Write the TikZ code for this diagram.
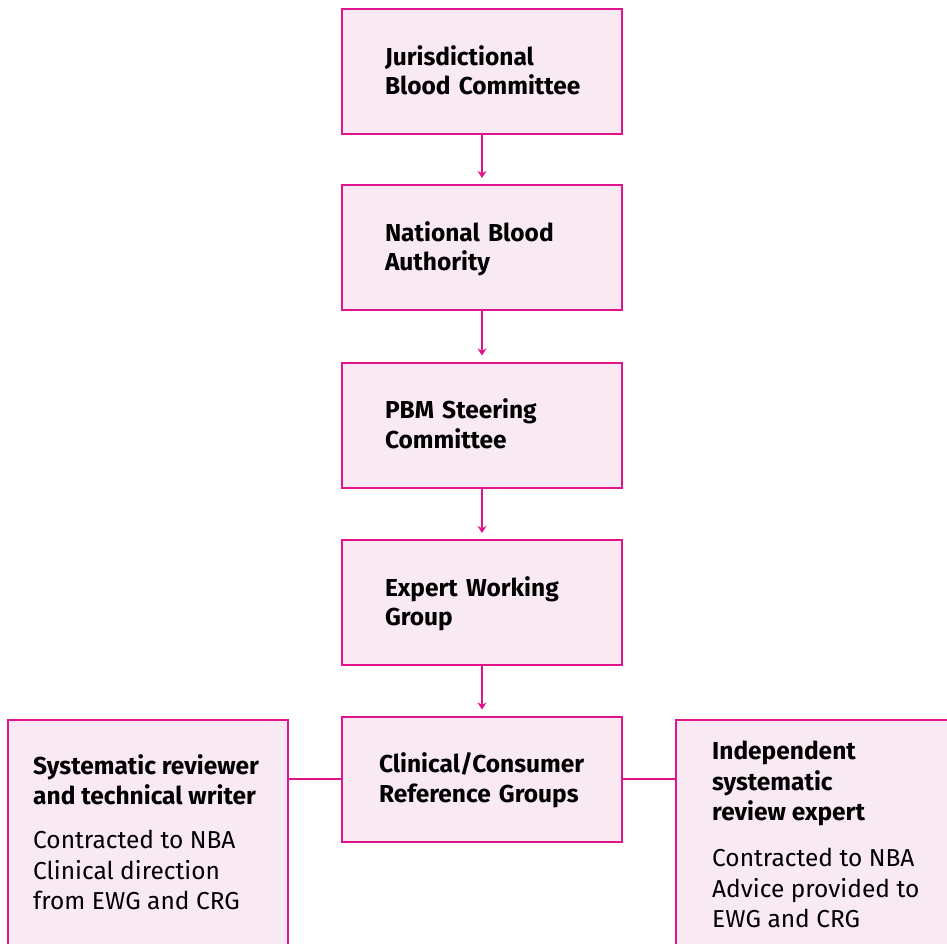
\documentclass[tikz,border=0pt]{standalone}
\usepackage{fontspec}
\setmainfont{Fira Sans}
\usetikzlibrary{arrows.meta}
\definecolor{mag}{HTML}{E0148C}
\definecolor{pinkfill}{HTML}{F8E9F3}
\hyphenpenalty=10000
\exhyphenpenalty=10000
\begin{document}
\begin{tikzpicture}[x=1pt,y=-1pt,
  every node/.style={font=\fontsize{24.5}{30.5}\selectfont},
  box/.style={draw=mag, fill=pinkfill, line width=2pt, inner sep=0pt,
    minimum width=280pt, minimum height=125pt, text width=194pt, align=left,
    text height=16.9pt, text depth=29.5pt,
    font=\fontsize{24.5}{29.5}\selectfont\bfseries},
  sidebox/.style={draw=mag, fill=pinkfill, line width=2pt, inner sep=0pt, anchor=north west},
  sidetext/.style={inner sep=0pt, anchor=north west, align=left},
  arr/.style={draw=mag, line width=2pt, -{Stealth[length=7pt,width=9pt]}, shorten >=6pt},
  link/.style={draw=mag, line width=2pt}]
\useasboundingbox (0,0) rectangle (947,944);
\clip (0,0) rectangle (947,944);
\node[box] (jbc) at (482,71.5) {Jurisdictional\\Blood~Committee};
\node[box] (nba) at (482,247.5) {National Blood\\Authority};
\node[box] (pbm) at (482,425) {PBM Steering\\Committee};
\node[box] (ewg) at (482,602.5) {Expert Working\\Group};
\node[box, text width=206pt] (crg) at (482,779) {Clinical/Consumer\\Reference Groups};
\node[sidebox, minimum width=280pt, minimum height=260pt] (srw) at (7,719) {};
\node[sidebox, minimum width=290pt, minimum height=260pt] (isr) at (675,719) {};
\node[sidetext] (srwt) at (33,754) {\textbf{Systematic reviewer}\\\textbf{and technical writer}\\[13.5pt]Contracted to NBA\\Clinical direction\\from EWG and CRG};
\node[sidetext] (isrt) at (712,741) {\textbf{Independent}\\\textbf{systematic}\\\textbf{review expert}\\[15.5pt]Contracted to NBA\\Advice provided to\\EWG and CRG};
\draw[arr] (jbc) -- (nba);
\draw[arr] (nba) -- (pbm);
\draw[arr] (pbm) -- (ewg);
\draw[arr] (ewg) -- (crg);
\draw[link] (srw.east |- crg.west) -- (crg.west);
\draw[link] (crg.east) -- (isr.west |- crg.east);
\end{tikzpicture}
\end{document}
